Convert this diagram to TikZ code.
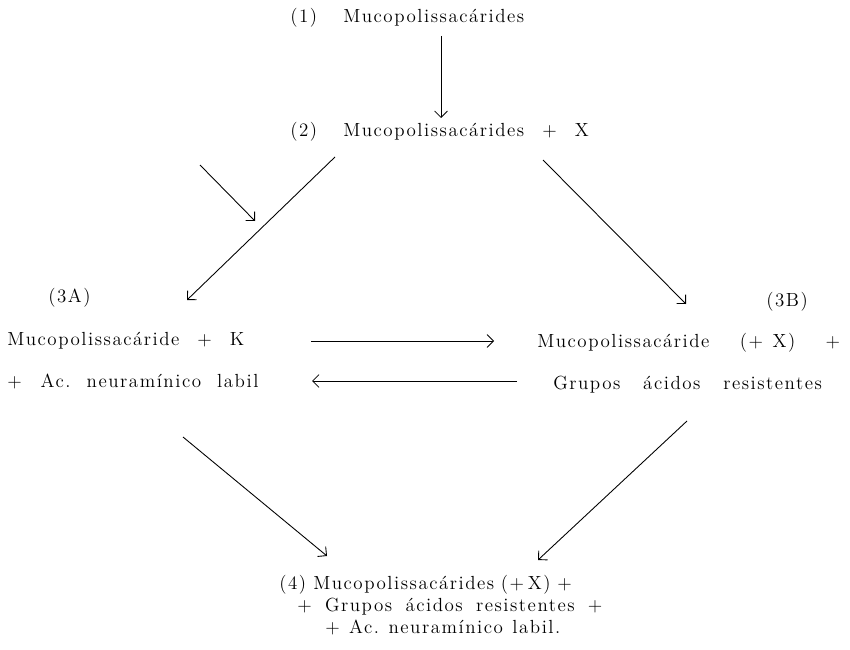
\documentclass[tikz,border=0pt]{standalone}
\usepackage{fontspec}
\usetikzlibrary{arrows.meta}
\newfontfamily\spacedfont{Latin Modern Roman}[LetterSpace=8]
\tikzset{
  txt/.style={inner sep=0pt, font=\spacedfont\fontsize{13.5}{16}\selectfont},
  arr/.style={-{Straight Barb[length=1.6mm,width=3.2mm]}, line width=0.022cm},
}
\begin{document}
\begin{tikzpicture}[x=0.025cm,y=-0.025cm]
            \useasboundingbox (0,0) rectangle (850,650);%

            % Marking step (1)
            \node (lbl1) at (290,23) [txt, anchor=base west] { (1) };%
            \node (muc1) at (343,23) [txt, anchor=base west] { Mucopolissacárides };%

            % Marking step (2)
            \node (lbl2) at (290,137) [txt, anchor=base west] { (2) };%
            \node (muc2) at (343,137) [txt, anchor=base west] { Mucopolissacárides\hspace{0.95em}+\hspace{0.95em}X };%

            % Marking step (3A)
            \node (lbl3a) at (48,302) [txt, anchor=base west] { (3A) };%
            \node (muc3a) at (7,345) [txt, anchor=base west] { Mucopolissacáride\hspace{0.95em}+\hspace{0.95em}K };%
            \node (neu3a) at (7,387) [txt, anchor=base west] { +\hspace{1em}Ac.\hspace{0.85em}neuramínico\hspace{0.85em}labil };%

            % Marking step (3B)
            \node (lbl3b) at (766,306) [txt, anchor=base west] { (3B) };%
            \node (muc3b) at (537,347) [txt, anchor=base west] { Mucopolissacáride\hspace{1.6em}(+\hspace{0.5em}X)\hspace{1.6em}+ };%
            \node (gru3b) at (553,389) [txt, anchor=base west] { Grupos\hspace{1.2em}ácidos\hspace{1.2em}resistentes };%

            % Marking step (4)
            \node (lbl4) at (279,589) [txt, anchor=base west] { (4) };%
            \node (muc4) at (313,589) [txt, anchor=base west] { Mucopolissacárides\hspace{0.35em}(+\hspace{0.2em}X)\hspace{0.35em}+ };%
            \node (gru4) at (297,611) [txt, anchor=base west] { +\hspace{0.7em}Grupos\hspace{0.7em}ácidos\hspace{0.7em}resistentes\hspace{0.7em}+ };%
            \node (neu4) at (325,633) [txt, anchor=base west] { +\hspace{0.5em}Ac.\hspace{0.5em}neuramínico\hspace{0.5em}labil. };%

            % Arrow end points
            \coordinate (a1s) at (441,36);%
            \coordinate (a1e) at (441,118);%
            \coordinate (xs) at (200,165);%
            \coordinate (xe) at (255,221);%
            \coordinate (b1s) at (335,157);%
            \coordinate (b1e) at (187,300);%
            \coordinate (c1s) at (543,160);%
            \coordinate (c1e) at (686,304);%
            \coordinate (d1s) at (311,341);%
            \coordinate (d1e) at (494,341);%
            \coordinate (e1s) at (517,381);%
            \coordinate (e1e) at (312,381);%
            \coordinate (f1s) at (183,437);%
            \coordinate (f1e) at (327,556);%
            \coordinate (g1s) at (687,421);%
            \coordinate (g1e) at (538,560);%

            % Drawing arrows
            \draw [arr] (a1s) -- (a1e);%
            \draw [arr] (xs) -- (xe);%
            \draw [arr] (b1s) -- (b1e);%
            \draw [arr] (c1s) -- (c1e);%
            \draw [arr] (d1s) -- (d1e);%
            \draw [arr] (e1s) -- (e1e);%
            \draw [arr] (f1s) -- (f1e);%
            \draw [arr] (g1s) -- (g1e);%
\end{tikzpicture}
\end{document}
